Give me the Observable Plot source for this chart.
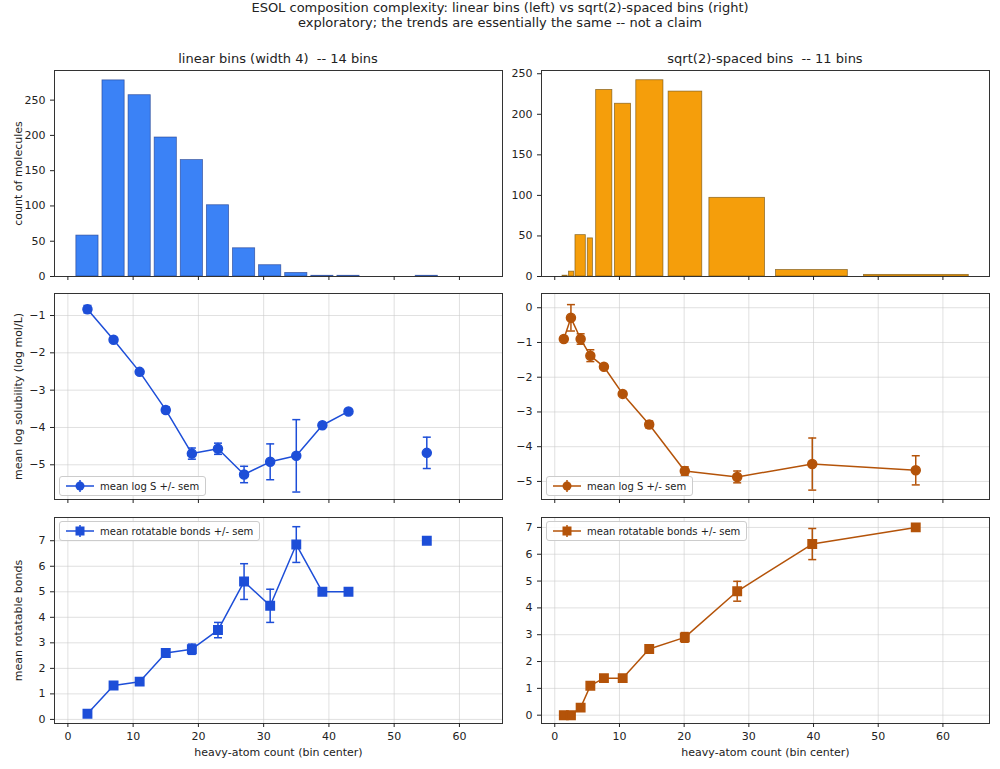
<!DOCTYPE html>
<html><head><meta charset="utf-8">
<script src="https://cdn.jsdelivr.net/npm/d3@7"></script>
<script src="https://cdn.jsdelivr.net/npm/@observablehq/plot@0.6"></script>
<style>
body{margin:0;background:#fff;font-family:"DejaVu Sans",sans-serif;}
#fig{position:relative;width:1000px;height:769px;overflow:hidden;}
.t{position:absolute;text-align:center;color:#222;}
.leg{position:absolute;background:rgba(255,255,255,0.85);border:1px solid #ccc;border-radius:3px;font-size:10px;padding:3px 6px;display:flex;align-items:center;gap:6px;color:#222;}
svg{position:absolute;overflow:visible;}
</style></head><body><div id="fig"></div>
<script>
// ---- data ----
const linCenters = [3,7,11,15,19,23,27,31,35,39,43,55];
const linCounts  = [58,278,257,197,165,101,40,16,5,1,1,1];
const linLogS    = [-0.83,-1.65,-2.51,-3.53,-4.70,-4.57,-5.26,-4.92,-4.76,-3.94,-3.57,-4.68];
const linLogSsem = [0.10,0.05,0.05,0.08,0.15,0.15,0.22,0.48,0.97,0,0,0.42];
const linRot     = [0.22,1.33,1.48,2.6,2.75,3.5,5.4,4.45,6.85,5.0,5.0,7.0];
const linRotSem  = [0,0.06,0.06,0.1,0.2,0.3,0.7,0.65,0.7,0,0,0];
const linSeg     = [0,0,0,0,0,0,0,0,0,0,0,1];

const sqX1 = [1.2,2.2,3.2,5.1,6.4,9.3,12.6,17.6,23.9,34.2,47.8];
const sqX2 = [2.0,3.0,4.8,5.9,8.9,11.8,16.8,22.8,32.5,45.3,64.0];
const sqCounts = [1,6,51,47,230,213,242,228,97,8,2];
const sqCenters = [1.4,2.5,4.0,5.5,7.6,10.5,14.6,20.1,28.2,39.8,55.8];
const sqLogS    = [-0.9,-0.29,-0.9,-1.38,-1.7,-2.48,-3.36,-4.7,-4.87,-4.5,-4.68];
const sqLogSsem = [0,0.38,0.15,0.17,0.05,0.05,0.1,0.12,0.17,0.75,0.42];
const sqRot     = [0,0,0.28,1.1,1.38,1.38,2.47,2.9,4.62,6.38,7.0];
const sqRotSem  = [0,0,0.05,0.05,0.03,0.03,0.1,0.18,0.37,0.58,0];

const xTicks = [0,10,20,30,40,50,60];

const BLUE_BAR="#3b82f6", BLUE="#1d4ed8", ORANGE_BAR="#f59e0b", ORANGE="#b45309";
const fig = document.getElementById("fig");

const cap = {draw(ctx, size){ const r = 4; ctx.moveTo(-r,0); ctx.lineTo(r,0); }};
const sq = {draw(ctx,size){ const r=4.2; ctx.rect(-r,-r,2*r,2*r); }};

function place(svg, left, top){ svg.style.left=left+"px"; svg.style.top=top+"px"; fig.appendChild(svg); }

function panel({area, xdom, ydom, yticks, marks, xlabels, xlabel, ylabel, grid}){
  const [L,T,R,B] = area;
  const mL=45, mT=5, mR=5, mB=40;
  const svg = Plot.plot({
    width: (R-L)+mL+mR, height:(B-T)+mT+mB,
    marginLeft:mL, marginTop:mT, marginRight:mR, marginBottom:mB,
    style:{fontFamily:"DejaVu Sans, sans-serif", fontSize:"11px", color:"#222", background:"transparent"},
    x:{domain:xdom, ticks:xTicks, tickSize:4, tickFormat: xlabels? d=>d : ()=>"", label:null},
    y:{domain:ydom, ticks:yticks, tickSize:4, label:null, tickFormat: d=> d<0 ? "\u2212"+(-d) : d},
    marks:[
      ...(grid? [Plot.gridX(xTicks,{stroke:"#ccc",strokeOpacity:0.6}), Plot.gridY(yticks,{stroke:"#ccc",strokeOpacity:0.6})]:[]),
      ...marks,
      Plot.frame({stroke:"#333"}),
      Plot.axisX({ticks:xTicks, tickSize:4, tickFormat: xlabels? d=>d : ()=>"", label: xlabel ?? null, labelAnchor:"center", labelArrow:"none", labelOffset:32, fontSize:11}),
      Plot.axisY({ticks:yticks, tickSize:4, tickFormat: d=> d<0 ? "\u2212"+(-d) : d, label: ylabel ?? null, labelAnchor:"center", labelArrow:"none", labelOffset:40})
    ]
  });
  place(svg, L-mL, T-mT);
}

function errMarks(cx, ys, sems, seg, color, symbol){
  const d = cx.map((x,i)=>({x, y:ys[i], s:sems[i], seg: seg? seg[i]:0}));
  const e = d.filter(v=>v.s>0);
  return [
    Plot.line(d,{x:"x",y:"y",z:"seg",stroke:color,strokeWidth:1.5}),
    Plot.ruleX(e,{x:"x",y1:v=>v.y-v.s,y2:v=>v.y+v.s,stroke:color,strokeWidth:1.5}),
    Plot.dot(e,{x:"x",y:v=>v.y-v.s,symbol:cap,stroke:color,strokeWidth:1.5,fill:"none"}),
    Plot.dot(e,{x:"x",y:v=>v.y+v.s,symbol:cap,stroke:color,strokeWidth:1.5,fill:"none"}),
    Plot.dot(d,{x:"x",y:"y",symbol:symbol,r:4.5,fill:color,stroke:color})
  ];
}

const LX=[54,502], RX=[541,989];
const ROW1=[70,276], ROW2=[293,499], ROW3=[517,723];

// top row
const linBars = linCenters.map((c,i)=>({x1:c-1.7,x2:c+1.7,y:linCounts[i]}));
panel({area:[LX[0],ROW1[0],LX[1],ROW1[1]], xdom:[-2.05,66.6], ydom:[0,292], yticks:[0,50,100,150,200,250],
  marks:[Plot.rectY(linBars,{x1:"x1",x2:"x2",y:"y",fill:BLUE_BAR,stroke:"#1e3a8a",strokeWidth:0.8,strokeOpacity:0.7})],
  ylabel:"count of molecules"});
const sqBars = sqX1.map((a,i)=>({x1:a,x2:sqX2[i],y:sqCounts[i]}));
panel({area:[RX[0],ROW1[0],RX[1],ROW1[1]], xdom:[-2.05,67.2], ydom:[0,254], yticks:[0,50,100,150,200,250],
  marks:[Plot.rectY(sqBars,{x1:"x1",x2:"x2",y:"y",fill:ORANGE_BAR,stroke:"#6b4a0a",strokeWidth:0.8,strokeOpacity:0.7})]});

// middle row
panel({area:[LX[0],ROW2[0],LX[1],ROW2[1]], xdom:[-2.05,66.6], ydom:[-5.93,-0.41], yticks:[-5,-4,-3,-2,-1], grid:true,
  marks:errMarks(linCenters,linLogS,linLogSsem,linSeg,BLUE,"circle"), ylabel:"mean log solubility (log mol/L)"});
panel({area:[RX[0],ROW2[0],RX[1],ROW2[1]], xdom:[-2.05,67.2], ydom:[-5.52,0.41], yticks:[-5,-4,-3,-2,-1,0], grid:true,
  marks:errMarks(sqCenters,sqLogS,sqLogSsem,null,ORANGE,"circle")});

// bottom row
panel({area:[LX[0],ROW3[0],LX[1],ROW3[1]], xdom:[-2.05,66.6], ydom:[-0.16,7.91], yticks:[0,1,2,3,4,5,6,7], grid:true, xlabels:true,
  marks:errMarks(linCenters,linRot,linRotSem,linSeg,BLUE,sq), xlabel:"heavy-atom count (bin center)", ylabel:"mean rotatable bonds"});
panel({area:[RX[0],ROW3[0],RX[1],ROW3[1]], xdom:[-2.05,67.2], ydom:[-0.31,7.37], yticks:[0,1,2,3,4,5,6,7], grid:true, xlabels:true,
  marks:errMarks(sqCenters,sqRot,sqRotSem,null,ORANGE,sq), xlabel:"heavy-atom count (bin center)"});

// titles
function text(html, left, top, width, size){
  const d=document.createElement("div"); d.className="t"; d.innerHTML=html;
  Object.assign(d.style,{left:left+"px",top:top+"px",width:width+"px",fontSize:size+"px",lineHeight:(size+2)+"px"});
  fig.appendChild(d);
}
text("ESOL composition complexity: linear bins (left) vs sqrt(2)-spaced bins (right)<br>exploratory; the trends are essentially the same -- not a claim",0,0,1000,13);
text("linear bins (width 4)&nbsp; -- 14 bins",LX[0],51,LX[1]-LX[0],13);
text("sqrt(2)-spaced bins&nbsp; -- 11 bins",RX[0],51,RX[1]-RX[0],13);

function legend(left, top, color, marker, label){
  const d=document.createElement("div"); d.className="leg";
  Object.assign(d.style,{left:left+"px",top:top+"px"});
  const m = marker==="circle" ? `<circle cx="14" cy="6" r="4.5" fill="${color}"/>` : `<rect x="9.5" y="1.5" width="9" height="9" fill="${color}"/>`;
  d.innerHTML=`<svg width="28" height="12" style="position:static"><line x1="0" x2="28" y1="6" y2="6" stroke="${color}" stroke-width="1.5"/><line x1="14" x2="14" y1="0" y2="12" stroke="${color}" stroke-width="1.5"/>${m}</svg><span>${label}</span>`;
  fig.appendChild(d);
}
legend(59,476,BLUE,"circle","mean log S +/- sem");
legend(546,476,ORANGE,"circle","mean log S +/- sem");
legend(59,521,BLUE,"square","mean rotatable bonds +/- sem");
legend(546,521,ORANGE,"square","mean rotatable bonds +/- sem");
</script></body></html>
